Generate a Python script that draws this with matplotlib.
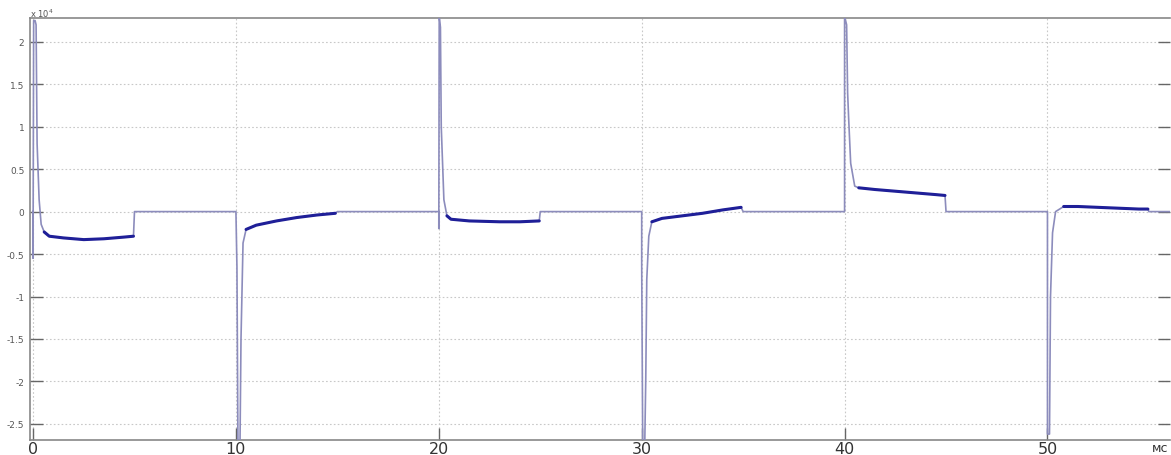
import numpy as np
import matplotlib
matplotlib.use('Agg')
import matplotlib.pyplot as plt
from matplotlib.ticker import FuncFormatter

# waveform, time in ms, value in units of 1e4
t_wave = [0.0, 0.0, 0.03, 0.1, 0.15, 0.2, 0.3, 0.4, 0.55, 0.8, 1.5, 2.5, 3.5, 4.5, 4.95, 5.0,
          10.0, 10.05, 10.1, 10.2, 10.25, 10.35, 10.5, 11.0, 12.0, 13.0, 14.0, 14.9, 15.0,
          20.0, 20.0, 20.02, 20.08, 20.12, 20.25, 20.4, 20.6, 21.5, 23.0, 24.0, 24.95, 25.0,
          30.0, 30.0, 30.05, 30.15, 30.2, 30.25, 30.35, 30.5, 31.0, 32.0, 33.0, 34.0, 34.9, 35.0,
          40.0, 40.0, 40.1, 40.15, 40.2, 40.3, 40.5, 40.7, 41.5, 42.5, 43.5, 44.5, 44.95, 45.0,
          50.0, 50.0, 50.1, 50.15, 50.25, 50.4, 50.8, 51.5, 52.5, 53.5, 54.5, 54.95, 55.0, 56.5]
v_wave = [0.0, -0.55, 2.25, 2.25, 2.2, 0.8, 0.14, -0.15, -0.24, -0.29, -0.31, -0.33, -0.32, -0.30, -0.29, 0.0,
          0.0, -0.65, -2.75, -2.75, -1.5, -0.37, -0.21, -0.16, -0.11, -0.07, -0.04, -0.02, 0.0,
          0.0, -0.2, 2.3, 2.17, 1.0, 0.14, -0.05, -0.09, -0.11, -0.12, -0.12, -0.11, 0.0,
          0.0, -0.62, -2.75, -2.75, -1.98, -0.8, -0.29, -0.12, -0.08, -0.05, -0.02, 0.02, 0.05, 0.0,
          0.0, 2.3, 2.2, 1.4, 1.1, 0.57, 0.3, 0.28, 0.26, 0.24, 0.22, 0.20, 0.19, 0.0,
          0.0, -2.62, -2.62, -1.0, -0.25, 0.0, 0.06, 0.06, 0.05, 0.04, 0.03, 0.03, 0.0, 0.0]

# slow (dense, dark) parts of each pulse
plateaus = [(0.5, 4.95), (10.5, 14.9), (20.4, 24.95), (30.5, 34.9), (40.6, 44.95), (50.5, 54.95)]

x_ticks = [0, 10, 20, 30, 40, 50]
y_ticks = [-2.5, -2, -1.5, -1, -0.5, 0, 0.5, 1, 1.5, 2]

t_wave = np.array(t_wave)
v_wave = np.array(v_wave)

fig = plt.figure(figsize=(11.71, 4.56), dpi=100)
ax = fig.add_axes([30/1171, 1 - 441/456, 1 - 30/1171 - 0.0005, 422/456])

ax.plot(t_wave, v_wave, color='#8c8cbc', lw=1.2, zorder=3)
for a, b in plateaus:
    m = (t_wave >= a) & (t_wave <= b)
    ax.plot(t_wave[m], v_wave[m], color='#1f1f98', lw=2.2, zorder=4, solid_capstyle='round')

ax.set_xlim(-0.15, 56.06)
ax.set_ylim(-2.69, 2.28)
ax.set_xticks(x_ticks)
ax.set_yticks(y_ticks)
ax.yaxis.set_major_formatter(FuncFormatter(lambda v, p: '%g' % v))

ax.grid(True, color='#c8c8c8', lw=0.8, linestyle=(0, (1.5, 2)))
ax.tick_params(axis='both', direction='in', length=9, color='#666666', width=1)
ax.tick_params(axis='y', right=True, labelsize=6.5, labelcolor='#555555', pad=4)
ax.tick_params(axis='x', labelsize=11.5, labelcolor='#333333', pad=0.5)
for s in ['left', 'top', 'bottom']:
    ax.spines[s].set_color('#888888')
    ax.spines[s].set_linewidth(1.2)
ax.spines['right'].set_visible(False)

fig.text(30/1171, 1 - 14/456, r'x 10$^4$', fontsize=6, color='#555555', va='center', ha='left')
fig.text(1160/1171, 1 - 449/456, 'мс', fontsize=9, color='#333333', ha='center', va='center')

fig.savefig('out.png', dpi=100)
